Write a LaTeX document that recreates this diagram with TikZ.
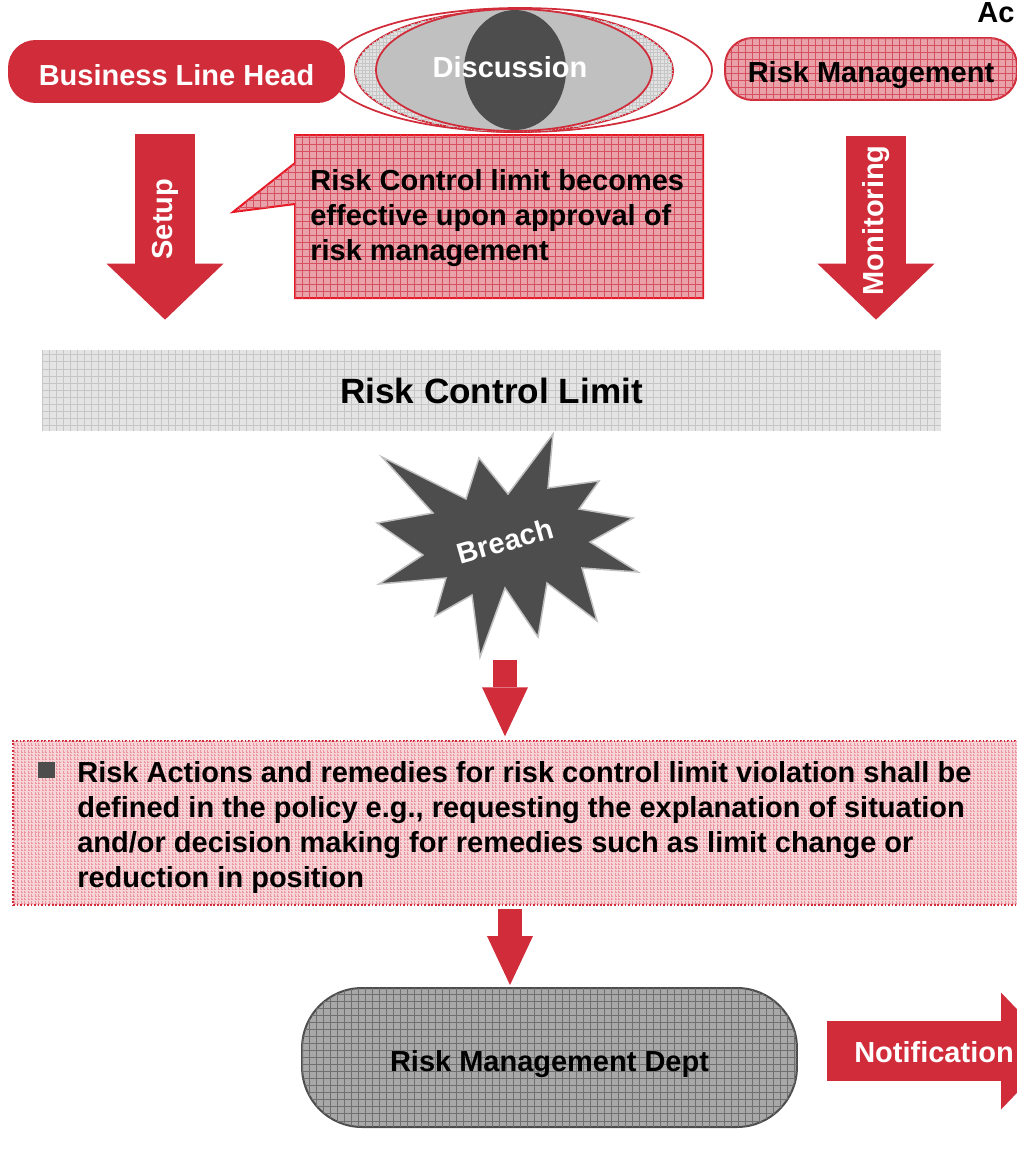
\documentclass[tikz,border=0pt]{standalone}
\usepackage{fontspec}
\setmainfont{Liberation Sans}
\usepackage{tikz}
\usetikzlibrary{arrows.meta, patterns, calc}
\definecolor{riskRed}{RGB}{209,44,58}
\definecolor{noteRed}{RGB}{232,24,36}
\definecolor{pinkFill}{RGB}{234,162,170}
\definecolor{pinkGrid}{RGB}{214,80,95}
\definecolor{paleFill}{RGB}{247,212,216}
\definecolor{paleGrid}{RGB}{236,150,160}
\definecolor{bandGray}{RGB}{228,228,228}
\definecolor{bandGrid}{RGB}{198,198,198}
\definecolor{discGray}{RGB}{192,192,192}
\definecolor{ringGray}{RGB}{226,226,226}
\definecolor{darkGray}{RGB}{77,77,77}
\definecolor{deptGray}{RGB}{168,168,168}
\definecolor{deptGrid}{RGB}{112,112,112}

\pgfdeclarepatternformonly{cellgrid}{\pgfqpoint{-0.5pt}{-0.5pt}}{\pgfqpoint{4.5pt}{4.5pt}}{\pgfqpoint{4pt}{4pt}}{%
  \pgfsetlinewidth{0.4pt}
  \pgfpathmoveto{\pgfqpoint{0pt}{0pt}}\pgfpathlineto{\pgfqpoint{4.1pt}{0pt}}
  \pgfpathmoveto{\pgfqpoint{0pt}{0pt}}\pgfpathlineto{\pgfqpoint{0pt}{4.1pt}}
  \pgfusepath{stroke}}
\pgfdeclarepatternformonly{finegrid}{\pgfqpoint{-0.5pt}{-0.5pt}}{\pgfqpoint{2.5pt}{2.5pt}}{\pgfqpoint{2pt}{2pt}}{%
  \pgfsetlinewidth{0.3pt}
  \pgfpathmoveto{\pgfqpoint{0pt}{0pt}}\pgfpathlineto{\pgfqpoint{2.1pt}{0pt}}
  \pgfpathmoveto{\pgfqpoint{0pt}{0pt}}\pgfpathlineto{\pgfqpoint{0pt}{2.1pt}}
  \pgfusepath{stroke}}

\begin{document}
\begin{tikzpicture}[x=0.02cm, y=-0.02cm,
  font=\fontsize{16.5}{19.8}\selectfont\bfseries,
  lowtxt/.style={text height=15.5pt, text depth=0pt},
  hdbox/.style={fill=riskRed, text=white, rounded corners=0.55cm, minimum width=6.74cm,
                minimum height=1.26cm, inner sep=0pt, lowtxt},
  rmbox/.style={draw=riskRed, line width=0.04cm, fill=pinkFill, rounded corners=0.55cm,
                postaction={pattern=cellgrid, pattern color=pinkGrid},
                minimum width=5.84cm, minimum height=1.24cm, inner sep=0pt, lowtxt},
  band/.style={fill=bandGray, postaction={pattern=cellgrid, pattern color=bandGrid},
               minimum width=17.98cm, minimum height=1.62cm, inner sep=0pt,
               font=\fontsize{20}{24}\selectfont\bfseries},
  actbox/.style={draw=riskRed, line width=0.03cm, dash pattern=on 1pt off 1pt, fill=paleFill,
                 postaction={pattern=finegrid, pattern color=paleGrid},
                 minimum width=20.34cm, minimum height=3.28cm, inner sep=0pt},
  deptbox/.style={draw=darkGray, line width=0.04cm, fill=deptGray, rounded corners=1.2cm,
                  postaction={pattern=cellgrid, pattern color=deptGrid},
                  minimum width=9.9cm, minimum height=2.78cm, inner sep=0pt, lowtxt},
  ring/.style={draw=riskRed, line width=0.035cm},
  wtxt/.style={text=white, inner sep=0pt},
  fat/.style={draw=riskRed, line width=1.2cm,
              -{Triangle[length=1.12cm, width=2.34cm, line width=0pt]}},
  slim/.style={draw=riskRed, line width=0.48cm,
               -{Triangle[length=0.98cm, width=0.92cm, line width=0pt]}}]

  \useasboundingbox (0,0) rectangle (1017,1156);
  \clip (0,0) rectangle (1017,1156);
  \fill[white] (0,0) rectangle (1017,1156);

  % discussion rings
  \draw[ring, fill=white] (520,70) ellipse [x radius=192, y radius=62];
  \draw[ring, fill=ringGray, postaction={pattern=finegrid, pattern color=bandGrid}]
    (514,71) ellipse [x radius=159, y radius=61];
  \draw[ring, fill=discGray] (514,70) ellipse [x radius=138, y radius=61];
  \fill[darkGray] (515,70) ellipse [x radius=51, y radius=60];
  \node[wtxt] (disc) at (510,67) {Discussion};

  \node[hdbox] (blh) at (176.5,71.5) {Business Line Head};
  \node[rmbox] (rm) at (871,69) {Risk Management};
  \node[anchor=base west, inner sep=0pt] (title) at (977,22) {Ac};

  % approval note
  \draw[noteRed, line width=0.04cm, fill=pinkFill,
        postaction={pattern=cellgrid, pattern color=pinkGrid}]
    (295,135) -- (703,135) -- (703,298) -- (295,298) -- (295,204) -- (233,212) -- (295,163) -- cycle;
  \node[anchor=west, align=left, inner sep=0pt] (note) at (310,218)
    {Risk Control limit becomes\\effective upon approval of\\risk management};

  \node[band] (rcl) at (491.5,390.5) {Risk Control Limit};

  \coordinate (setupAxis) at (165,0);
  \coordinate (monAxis) at (876,0);
  \draw[fat, shorten <=0.62cm, shorten >=0.6cm] (blh.south -| setupAxis) -- (rcl.north -| setupAxis)
    node[wtxt, pos=0.47, rotate=90] (setup) {Setup};
  \draw[fat, shorten <=0.7cm, shorten >=0.6cm] (rm.south -| monAxis) -- (rcl.north -| monAxis)
    node[wtxt, pos=0.48, rotate=90] (monitor) {Monitoring};

  % breach
  \draw[fill=darkGray, draw=discGray, line width=0.03cm, line join=miter]
    (382,457) -- (466,499) -- (479,458) -- (508,494) -- (553,434) -- (548,488)
    -- (599,481) -- (579,509) -- (633,518) -- (590,542) -- (638,572) -- (582,568)
    -- (597,621) -- (547,583) -- (538,637) -- (505,588) -- (480,657) -- (472,595)
    -- (435,616) -- (446,578) -- (379,584) -- (423,555) -- (377,523) -- (433,513) -- cycle;
  \node[wtxt, rotate=16] (breach) at (505,541) {Breach};
  \coordinate (breachTip) at (505,657);

  \node[actbox] (actions) at (521.5,823) {};
  \node[fill=darkGray, minimum size=0.33cm, inner sep=0pt] (bullet) at (46.5,770) {};
  \node[anchor=west, align=left, inner sep=0pt] (actText) at (77,827.5)
    {Risk Actions and remedies for risk control limit violation shall be\\
     defined in the policy e.g., requesting the explanation of situation\\
     and/or decision making for remedies such as limit change or\\
     reduction in position};

  \draw[slim, shorten <=0.06cm, shorten >=0.08cm] (breachTip) -- (actions.north -| breachTip);

  \node[deptbox] (dept) at (549.5,1057.5) {Risk Management Dept};
  \coordinate (lowAxis) at (510,0);
  \draw[slim, shorten <=0.06cm, shorten >=0.04cm] (actions.south -| lowAxis) -- (dept.north -| lowAxis);

  \coordinate (notifEnd) at (1057,1051);
  \draw[fat, shorten <=0.58cm] (dept.east |- notifEnd) -- (notifEnd);
  \node[wtxt] (notify) at (934,1052) {Notification};

\end{tikzpicture}
\end{document}
